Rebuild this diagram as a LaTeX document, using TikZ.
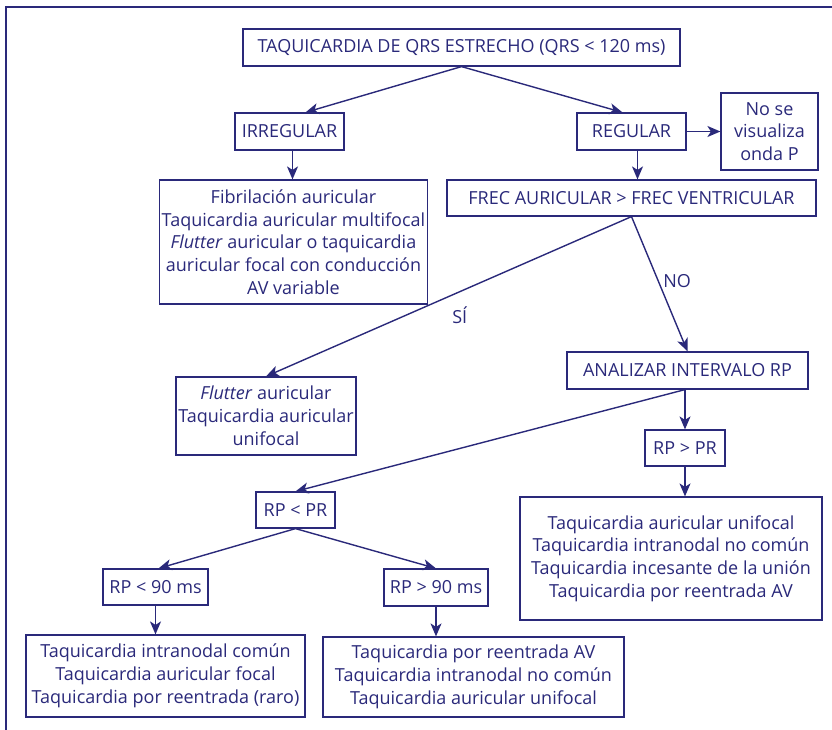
\documentclass[tikz,border=0pt]{standalone}
\usepackage{fontspec}
\setmainfont{Open Sans}
\usetikzlibrary{arrows.meta, positioning}
\definecolor{azulosc}{RGB}{42,41,122}

\begin{document}
\begin{tikzpicture}[x=1pt, y=-1pt,
    caja/.style={draw=azulosc, line width=1.2pt, text=azulosc, align=center, inner sep=2pt, font=\fontsize{18}{22.8}\selectfont},
    flecha/.style={draw=azulosc, line width=1.4pt, -{Stealth[length=13pt, width=11pt, inset=3.5pt]}},
    etiq/.style={text=azulosc, font=\fontsize{18}{22}\selectfont}
]
    \useasboundingbox (0,0) rectangle (832,730);
    % Marco
    \draw[azulosc, line width=2.5pt] (832,7) -- (6,7) -- (6,730);

    % Nodos
    \node[caja, minimum width=437, minimum height=37] (qrs) at (461.5,47.5) {TAQUICARDIA DE QRS ESTRECHO (QRS < 120 ms)};
    \node[caja, minimum width=109, minimum height=37] (irregular) at (289.5,131.5) {IRREGULAR};
    \node[caja, minimum width=109, minimum height=37] (regular) at (631.5,131.5) {REGULAR};
    \node[caja, minimum width=97, minimum height=77] (noonda) at (769.5,131.5) {No se\\visualiza\\onda P};
    \node[caja, minimum width=369, minimum height=36] (frec) at (631.5,198) {FREC AURICULAR > FREC VENTRICULAR};
    \node[caja, minimum width=267, minimum height=124] (fib) at (293.5,242) {Fibrilación auricular\\Taquicardia auricular multifocal\\\textit{Flutter} auricular o taquicardia\\auricular focal con conducción\\AV variable};
    \node[caja, minimum width=180, minimum height=78] (flutter) at (266,416) {\textit{Flutter} auricular\\Taquicardia auricular\\unifocal};
    \node[caja, minimum width=241, minimum height=37] (analizar) at (687.5,370.5) {ANALIZAR INTERVALO RP};
    \node[caja, minimum width=80, minimum height=36] (rpmayor) at (685,448) {RP > PR};
    \node[caja, minimum width=79, minimum height=36] (rpmenor) at (295.5,510) {RP < PR};
    \node[caja, minimum width=302, minimum height=123] (derecha) at (671,558.5) {Taquicardia auricular unifocal\\Taquicardia intranodal no común\\Taquicardia incesante de la unión\\Taquicardia por reentrada AV};
    \node[caja, minimum width=105, minimum height=36] (rpmenos) at (155.5,587) {RP < 90 ms};
    \node[caja, minimum width=104, minimum height=37] (rpmas) at (436,587.5) {RP > 90 ms};
    \node[caja, minimum width=279, minimum height=82] (izqabajo) at (165.5,676) {Taquicardia intranodal común\\Taquicardia auricular focal\\Taquicardia por reentrada (raro)};
    \node[caja, minimum width=301, minimum height=80] (medabajo) at (473.5,677) {Taquicardia por reentrada AV\\Taquicardia intranodal no común\\Taquicardia auricular unifocal};

    % Conexiones
    \draw[flecha] (qrs.south) -- ([xshift=16pt]irregular.north);
    \draw[flecha] (qrs.south) -- ([xshift=-9pt]regular.north);
    \draw[flecha] ([xshift=3pt]irregular.south) -- ([xshift=3pt]irregular.south |- fib.north);
    \draw[flecha] ([xshift=6pt]regular.south) -- ([xshift=6pt]regular.south |- frec.north);
    \draw[flecha] (regular) -- (noonda);

    \draw[flecha] (frec.south) -- node[etiq, pos=0.47, below=11pt] {SÍ} (flutter.north);
    \draw[flecha] (frec.south) -- node[etiq, pos=0.478, right=1pt] {NO} (analizar.north);

    \draw[flecha] ([xshift=-2.5pt]analizar.south) -- (rpmenor.north);
    \draw[flecha] ([xshift=-2.5pt]analizar.south) -- ([xshift=-2.5pt]analizar.south |- rpmayor.north);
    \draw[flecha] (rpmayor.south) -- (rpmayor.south |- derecha.north);

    \draw[flecha] (rpmenor.south) -- ([xshift=3pt]rpmenos.north);
    \draw[flecha] (rpmenor.south) -- (rpmas.north);
    \draw[flecha] (rpmenos.south) -- (rpmenos.south |- izqabajo.north);
    \draw[flecha] (rpmas.south) -- (rpmas.south |- medabajo.north);
\end{tikzpicture}
\end{document}
